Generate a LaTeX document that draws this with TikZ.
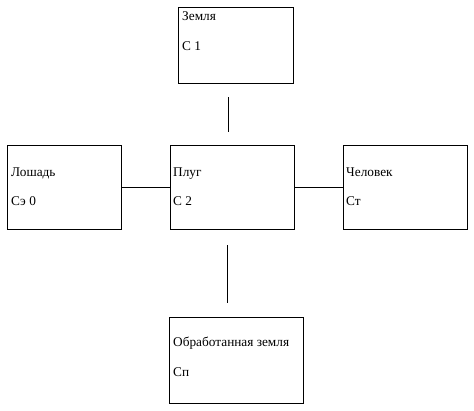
\documentclass[tikz,border=0pt]{standalone}
\usepackage{fontspec}
\setmainfont{Liberation Serif}
\begin{document}
\begin{tikzpicture}[x=1pt,y=-1pt,
 box/.style={draw,line width=0.8pt,inner sep=0pt,outer sep=0pt,anchor=north west},
 lbl/.style={anchor=base west,inner sep=0pt,font=\fontsize{13.3}{15}\selectfont},
 conn/.style={line width=0.8pt}]
\useasboundingbox (0,0) rectangle (474,410);
% boxes
\node[box,minimum width=115pt,minimum height=76pt] (zem) at (178,7) {};
\node[box,minimum width=114pt,minimum height=84pt] (horse) at (7,145) {};
\node[box,minimum width=124pt,minimum height=84pt] (plug) at (170,145) {};
\node[box,minimum width=124pt,minimum height=84pt] (man) at (343,145) {};
\node[box,minimum width=134pt,minimum height=86pt] (soil) at (169,317) {};
% texts
\node[lbl] (zemA) at (182,20) {Земля};
\node[lbl] (zemB) at (182,50) {С 1};
\node[lbl] (horseA) at (11,176) {Лошадь};
\node[lbl] (horseB) at (11,205) {Сэ 0};
\node[lbl] (plugA) at (173,176) {Плуг};
\node[lbl] (plugB) at (173,205) {С 2};
\node[lbl] (manA) at (346,176) {Человек};
\node[lbl] (manB) at (346,205) {Ст};
\node[lbl] (soilA) at (173,346) {Обработанная земля};
\node[lbl] (soilB) at (173,376) {Сп};
% connectors
\coordinate (t1) at (228,97);
\coordinate (t2) at (228,132);
\coordinate (b1) at (227,245);
\coordinate (b2) at (227,303);
\draw[conn] (t1) -- (t2);
\draw[conn] (b1) -- (b2);
\draw[conn] (horse) -- (plug);
\draw[conn] (plug) -- (man);
\end{tikzpicture}
\end{document}
